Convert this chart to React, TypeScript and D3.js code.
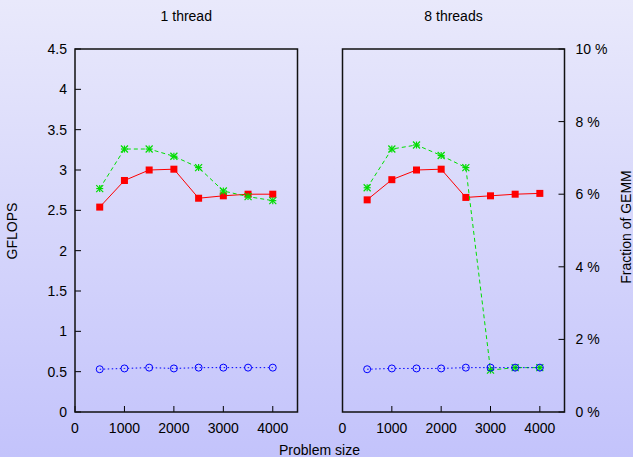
import React from "react";
import * as d3 from "d3";

const sizes = [500, 1000, 1500, 2000, 2500, 3000, 3500, 4000];
const red1 = [2.54, 2.87, 3.0, 3.01, 2.65, 2.68, 2.7, 2.7];
const green1 = [2.77, 3.26, 3.26, 3.17, 3.03, 2.74, 2.67, 2.62];
const blue1 = [0.53, 0.54, 0.55, 0.54, 0.55, 0.55, 0.55, 0.55];
const red8 = [2.63, 2.88, 3.0, 3.01, 2.66, 2.68, 2.7, 2.71];
const green8 = [2.78, 3.26, 3.31, 3.18, 3.03, 0.52, 0.55, 0.55];
const blue8 = [0.53, 0.54, 0.54, 0.54, 0.55, 0.55, 0.55, 0.55];
const yTicks = [0, 0.5, 1, 1.5, 2, 2.5, 3, 3.5, 4, 4.5];
const y2Ticks = [0, 2, 4, 6, 8, 10];
const xTicks = [0, 1000, 2000, 3000, 4000];
const titles = ["1 thread", "8 threads"];

const W = 633;
const H = 457;
const FONT = "'Liberation Sans', Arial, sans-serif";

const y = d3.scaleLinear().domain([0, 4.5]).range([412, 49]);
const y2 = d3.scaleLinear().domain([0, 10]).range([412, 49]);

type PanelProps = {
  x0: number;
  x1: number;
  title: string;
  red: number[];
  green: number[];
  blue: number[];
  left: boolean;
};

function Panel({ x0, x1, title, red, green, blue, left }: PanelProps) {
  const x = d3.scaleLinear().domain([0, 4500]).range([x0, x1]);
  const line = (vals: number[]) =>
    d3.line<number>().x((_, i) => x(sizes[i])).y((v) => y(v))(vals) || "";
  const tl = 6;
  return (
    <g>
      <text x={(x0 + x1) / 2} y={21} textAnchor="middle" fontSize={14} fontFamily={FONT} fill="#000">
        {title}
      </text>
      {xTicks.map((t) => (
        <g key={"x" + t}>
          <line x1={x(t)} x2={x(t)} y1={y(0)} y2={y(0) - tl} stroke="#000" strokeWidth={1} />
          <text x={x(t)} y={433} textAnchor="middle" fontSize={14} fontFamily={FONT} fill="#000">
            {t}
          </text>
        </g>
      ))}
      {left &&
        yTicks.map((t) => (
          <g key={"y" + t}>
            <line x1={x0} x2={x0 + tl} y1={y(t)} y2={y(t)} stroke="#000" strokeWidth={1} />
            <text x={x0 - 8} y={y(t)} dy="0.35em" textAnchor="end" fontSize={14} fontFamily={FONT} fill="#000">
              {t}
            </text>
          </g>
        ))}
      {!left &&
        y2Ticks.map((t) => (
          <g key={"y2" + t}>
            <line x1={x1} x2={x1 - tl} y1={y2(t)} y2={y2(t)} stroke="#000" strokeWidth={1} />
            <text x={x1 + 11} y={y2(t)} dy="0.35em" textAnchor="start" fontSize={14} fontFamily={FONT} fill="#000">
              {t + " %"}
            </text>
          </g>
        ))}
      <rect x={x0} y={49} width={x1 - x0} height={412 - 49} fill="none" stroke="#111" strokeWidth={1.5} />
      <path d={line(red)} fill="none" stroke="#ff0000" strokeWidth={1} />
      {red.map((v, i) => (
        <rect key={"r" + i} x={x(sizes[i]) - 3.5} y={y(v) - 3.5} width={7} height={7} fill="#ff0000" />
      ))}
      <path d={line(green)} fill="none" stroke="#00e000" strokeWidth={1} strokeDasharray="4,3" />
      {green.map((v, i) => {
        const cx = x(sizes[i]);
        const cy = y(v);
        const s = 3.5;
        return (
          <g key={"g" + i} stroke="#00dd00" strokeWidth={1.2}>
            <line x1={cx - s} x2={cx + s} y1={cy} y2={cy} />
            <line x1={cx} x2={cx} y1={cy - s} y2={cy + s} />
            <line x1={cx - s} x2={cx + s} y1={cy - s} y2={cy + s} />
            <line x1={cx - s} x2={cx + s} y1={cy + s} y2={cy - s} />
          </g>
        );
      })}
      <path d={line(blue)} fill="none" stroke="#0000ff" strokeWidth={1} strokeDasharray="1.5,2.5" />
      {blue.map((v, i) => (
        <circle key={"b" + i} cx={x(sizes[i])} cy={y(v)} r={3.5} fill="none" stroke="#0000ff" strokeWidth={1} />
      ))}
    </g>
  );
}

export default function App() {
  return (
    <svg width={W} height={H} style={{ position: "absolute", left: 0, top: 0 }}>
      <defs>
        <linearGradient id="bg" x1="0" y1="0" x2="0" y2="1">
          <stop offset="0%" stopColor="#e9e9fb" />
          <stop offset="100%" stopColor="#c3c3fb" />
        </linearGradient>
      </defs>
      <rect x={0} y={0} width={W} height={H} fill="url(#bg)" />
      <Panel x0={75} x1={297.5} title={titles[0]} red={red1} green={green1} blue={blue1} left={true} />
      <Panel x0={342.5} x1={564.5} title={titles[1]} red={red8} green={green8} blue={blue8} left={false} />
      <text transform="translate(17,231) rotate(-90)" textAnchor="middle" fontSize={14} fontFamily={FONT} fill="#000">
        GFLOPS
      </text>
      <text transform="translate(631,227) rotate(-90)" textAnchor="middle" fontSize={14} fontFamily={FONT} fill="#000">
        Fraction of GEMM
      </text>
      <text x={319.5} y={455} textAnchor="middle" fontSize={14} fontFamily={FONT} fill="#000">
        Problem size
      </text>
    </svg>
  );
}
